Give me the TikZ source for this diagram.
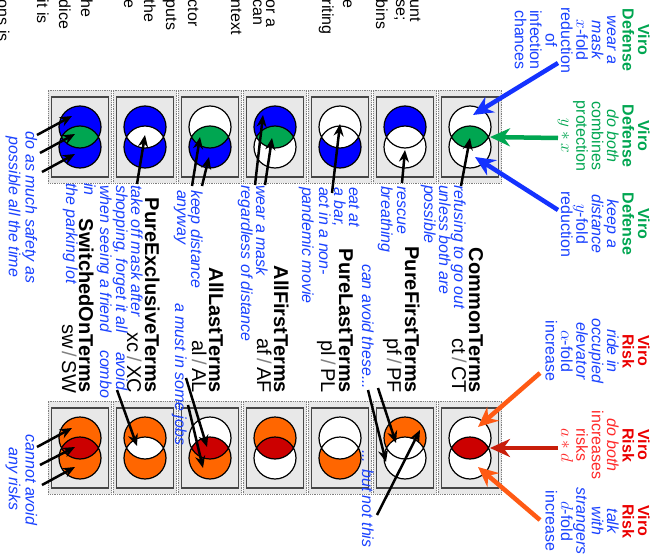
\documentclass[tikz,border=0pt]{standalone}
\usepackage{fontspec}
\setmainfont{Liberation Sans}
\usetikzlibrary{arrows.meta}
\definecolor{tblue}{RGB}{25,65,255}
\definecolor{tgreen}{RGB}{0,166,81}
\definecolor{tred}{RGB}{235,0,0}
\definecolor{tred2}{RGB}{255,40,40}
\definecolor{fblue}{RGB}{0,0,255}
\definecolor{fgreen}{RGB}{0,166,81}
\definecolor{forange}{RGB}{255,102,0}
\definecolor{fred}{RGB}{204,0,0}
\definecolor{aorange}{RGB}{255,90,20}
\definecolor{ared}{RGB}{200,30,10}
\definecolor{ablue}{RGB}{20,50,255}
\definecolor{boxgray}{RGB}{232,232,232}
\definecolor{boxedge}{RGB}{70,70,70}
\newcommand\venn[5]{%
  \fill[#3] (#1,#2-10) circle[radius=21pt];
  \fill[#5] (#1,#2+10) circle[radius=21pt];
  \begin{scope}
    \clip (#1,#2-10) circle[radius=21pt];
    \fill[#4] (#1,#2+10) circle[radius=21pt];
  \end{scope}
  \draw[line width=1.2pt] (#1,#2-10) circle[radius=21pt] (#1,#2+10) circle[radius=21pt];
}
\begin{document}
\begin{tikzpicture}[x=1pt,y=-1pt,
  rt/.style={rotate=-90, inner sep=0pt, outer sep=0pt},
  bt/.style={rt, anchor=base, text=tblue, font=\fontsize{16}{15}\selectfont\itshape},
  bu/.style={rt, anchor=base, text=tblue, font=\fontsize{16}{15}\selectfont},
  hd/.style={rt, anchor=base, font=\fontsize{16}{15}\selectfont\bfseries},
  ttl/.style={rt, font=\fontsize{20}{20}\selectfont\bfseries, anchor=base east},
  subl/.style={rt, font=\fontsize{20}{20}\selectfont, anchor=base east},
  frag/.style={rt, font=\fontsize{16}{16}\selectfont, anchor=base west},
  obox/.style={draw=gray, densely dotted, line width=0.8pt, fill=boxgray, minimum width=63.5pt, minimum height=93pt, inner sep=0pt},
  ibox/.style={draw=boxedge, line width=1.2pt, fill=boxgray, minimum width=57pt, minimum height=80pt, inner sep=0pt},
  big/.style={line width=4.5pt, -{Stealth[length=20pt,width=18pt]}},
  blk/.style={line width=2.5pt, black, -{Stealth[length=12pt,width=10pt]}}]
\useasboundingbox (0,0) rectangle (654,554);
\fill[white] (0,0) rectangle (654,554);

% cut-off paragraph fragments
\node[frag] (f1) at (410,0) {unt};
\node[frag] (f2) at (396,0) {se;};
\node[frag] (f3) at (376,0) {bins};
\node[frag] (f4) at (343,0) {e};
\node[frag] (f5) at (322,0) {riting};
\node[frag] (f6) at (266,0) {or a};
\node[frag] (f7) at (253,0) {can};
\node[frag] (f8) at (231,0) {ntext};
\node[frag] (f9) at (188,0) {ctor};
\node[frag] (f10) at (166,0) {puts};
\node[frag] (f11) at (144,0) {the};
\node[frag] (f12) at (124,0) {e};
\node[frag] (f13) at (81,0) {he};
\node[frag] (f14) at (59,0) {dice};
\node[frag] (f15) at (37,0) {it is};
\node[frag] (f16) at (-2,0) {ons is};

% boxes
\foreach \c/\n in {80/sw,145/xc,210/al,275/af,340/pl,405/pf,470/ct}{
  \node[obox] (o\n) at (\c,136.5) {};
  \node[ibox] (i\n) at (\c,137) {};
  \node[obox] (O\n) at (\c,447.5) {};
  \node[ibox] (I\n) at (\c,448) {};
}
% venns top
\venn{470}{137}{white}{fgreen}{white}
\venn{405}{137}{fblue}{white}{white}
\venn{340}{137}{white}{white}{fblue}
\venn{275}{137}{fblue}{fgreen}{white}
\venn{210}{137}{white}{fgreen}{fblue}
\venn{145}{137}{fblue}{white}{fblue}
\venn{80}{137}{fblue}{fgreen}{fblue}
% venns bottom
\venn{470}{448}{white}{fred}{white}
\venn{405}{448}{forange}{white}{white}
\venn{340}{448}{white}{white}{forange}
\venn{275}{448}{forange}{fred}{white}
\venn{210}{448}{white}{fred}{forange}
\venn{145}{448}{forange}{white}{forange}
\venn{80}{448}{forange}{fred}{forange}

% header groups
\node[hd,text=tgreen] (a0) at (638,40) {Viro};
\node[hd,text=tgreen] (a1) at (622.6,40) {Defense};
\node[bt] (a2) at (607.2,40) {wear a};
\node[bt] (a3) at (591.8,40) {mask};
\node[bu] (a4) at (576.4,40) {$x$-fold};
\node[bu] (a5) at (561,40) {reduction};
\node[bu] (a6) at (545.6,40) {of};
\node[bu] (a7) at (530.2,40) {infection};
\node[bu] (a8) at (514.8,40) {chances};

\node[hd,text=tgreen] (b0) at (638,136) {Viro};
\node[hd,text=tgreen] (b1) at (622.6,136) {Defense};
\node[bt,text=tgreen] (b2) at (607.2,136) {do both};
\node[bu,text=tgreen] (b3) at (591.8,136) {combines};
\node[bu,text=tgreen] (b4) at (576.4,136) {protection};
\node[bu,text=tgreen] (b5) at (561,136) {$y*x$};

\node[hd,text=tgreen] (c0) at (638,224) {Viro};
\node[hd,text=tgreen] (c1) at (622.6,224) {Defense};
\node[bt] (c2) at (607.2,224) {keep a};
\node[bt] (c3) at (591.8,224) {distance};
\node[bu] (c4) at (576.4,224) {$y$-fold};
\node[bu] (c5) at (561,224) {reduction};

\node[hd,text=tred] (d0) at (638,351) {Viro};
\node[hd,text=tred] (d1) at (622.6,351) {Risk};
\node[bt] (d2) at (607.2,351) {ride in};
\node[bt] (d3) at (591.8,351) {occupied};
\node[bt] (d4) at (576.4,351) {elevator};
\node[bu] (d5) at (561,351) {$\alpha$-fold};
\node[bu] (d6) at (545.6,351) {increase};

\node[hd,text=tred] (e0) at (638,445) {Viro};
\node[hd,text=tred] (e1) at (622.6,445) {Risk};
\node[bt,text=tred2] (e2) at (607.2,445) {do both};
\node[bu,text=tred2] (e3) at (591.8,445) {increases};
\node[bu,text=tred2] (e4) at (576.4,445) {risks};
\node[bu,text=tred2] (e5) at (561,445) {$a*d$};

\node[hd,text=tred] (g0) at (638,521) {Viro};
\node[hd,text=tred] (g1) at (622.6,521) {Risk};
\node[bt] (g2) at (607.2,521) {talk};
\node[bt] (g3) at (591.8,521) {with};
\node[bt] (g4) at (576.4,521) {strangers};
\node[bu] (g5) at (561,521) {$d$-fold};
\node[bu] (g6) at (545.6,521) {increase};

% titles
\node[ttl] (tct) at (469,393) {CommonTerms};
\node[subl] (sct) at (452,393) {ct\,{\color{gray}/}\,CT};
\node[ttl] (tpf) at (405,393) {PureFirstTerms};
\node[subl] (spf) at (387,393) {pf\,{\color{gray}/}\,PF};
\node[ttl] (tpl) at (339,393) {PureLastTerms};
\node[subl] (spl) at (321,393) {pl\,{\color{gray}/}\,PL};
\node[ttl] (taf) at (274,393) {AllFirstTerms};
\node[subl] (saf) at (257,393) {af\,{\color{gray}/}\,AF};
\node[ttl] (tal) at (209,393) {AllLastTerms};
\node[subl] (sal) at (192,393) {al\,{\color{gray}/}\,AL};
\node[ttl] (txc) at (145,393) {PureExclusiveTerms};
\node[subl] (sxc) at (127,393) {xc\,{\color{gray}/}\,XC};
\node[ttl] (tsw) at (79,393) {SwitchedOnTerms};
\node[subl] (ssw) at (62,393) {sw\,{\color{gray}/}\,SW};

% descriptions
\node[bt,anchor=base west] (m1) at (454,185) {refusing to go out};
\node[bt,anchor=base west] (m2) at (439,185) {unless both are};
\node[bt,anchor=base west] (m3) at (424,185) {possible};
\node[bt,anchor=base west] (m4) at (397,186) {rescue};
\node[bt,anchor=base west] (m5) at (381,186) {breathing};
\node[bt,anchor=base west] (m6) at (362,264) {can avoid these...};
\node[bt,anchor=base west] (m7) at (362,450) {... but not this};
\node[bt,anchor=base west] (m8) at (349,187) {eat at};
\node[bt,anchor=base west] (m9) at (334,187) {a bar,};
\node[bt,anchor=base west] (m10) at (319,187) {act in a non-};
\node[bt,anchor=base west] (m11) at (302,187) {pandemic movie};
\node[bt,anchor=base west] (m12) at (256,185) {wear a mask};
\node[bt,anchor=base west] (m13) at (241,185) {regardless of distance};
\node[bt,anchor=base west] (m14) at (191,190) {keep distance};
\node[bt,anchor=base west] (m15) at (177,190) {anyway};
\node[bt,anchor=base west] (m16) at (175,303) {a must in some jobs};
\node[bt,anchor=base west] (m17) at (131,185) {take off mask after};
\node[bt,anchor=base west] (m18) at (116,185) {shopping, forget it all};
\node[bt,anchor=base west] (m19) at (116,352) {avoid};
\node[bt,anchor=base west] (m20) at (100,185) {when seeing a friend};
\node[bt,anchor=base west] (m21) at (100,350) {combo};
\node[bt,anchor=base west] (m22) at (84,183) {in};
\node[bt,anchor=base west] (m23) at (66,183) {the parking lot};
\node[bt] (m24) at (25.5,207.5) {do as much safety as};
\node[bt] (m25) at (9,207) {possible all the time};
\node[bt] (m26) at (25.5,480) {cannot avoid};
\node[bt] (m27) at (9,479) {any risks};

% coloured arrows from headers
\coordinate (hA) at (558,63);  \coordinate (pA) at (473,115);
\coordinate (hB) at (558,138); \coordinate (pB) at (490,137);
\coordinate (hC) at (558,210); \coordinate (pC) at (475,157);
\coordinate (hD) at (540,373); \coordinate (pD) at (478,427);
\coordinate (hE) at (558,448); \coordinate (pE) at (490,448);
\coordinate (hF) at (540,520); \coordinate (pF) at (478,467);
\draw[big,ablue] (hA) -- (pA);
\draw[big,fgreen] (hB) -- (pB);
\draw[big,ablue] (hC) -- (pC);
\draw[big,aorange] (hD) -- (pD);
\draw[big,ared] (hE) -- (pE);
\draw[big,aorange] (hF) -- (pF);

% black arrows, top row
\coordinate (s1) at (461,186); \coordinate (e1) at (470,138);
\coordinate (s2) at (402,183); \coordinate (e2) at (405,150);
\coordinate (s3) at (332,193); \coordinate (e3) at (340,124);
\coordinate (s4) at (255,185); \coordinate (e4) at (263,115);
\coordinate (s5) at (265,185); \coordinate (e5) at (272,138);
\coordinate (s6) at (192,186); \coordinate (e6) at (200,137);
\coordinate (s7) at (202,186); \coordinate (e7) at (209,157);
\coordinate (s8) at (137,184); \coordinate (e8) at (145,135);
\coordinate (s9) at (37,135);  \coordinate (e9) at (72,116);
\coordinate (s10) at (40,153); \coordinate (e10) at (75,134);
\coordinate (s11) at (42,172); \coordinate (e11) at (75,154);
\foreach \k in {1,...,11}{\draw[blk] (s\k) -- (e\k);}
% black arrows, bottom row
\coordinate (u1) at (37,447);  \coordinate (v1) at (72,428);
\coordinate (u2) at (40,465);  \coordinate (v2) at (75,447);
\coordinate (u3) at (42,485);  \coordinate (v3) at (75,467);
\coordinate (u4) at (117,390); \coordinate (v4) at (137,446);
\coordinate (u5) at (186,378); \coordinate (v5) at (207,447);
\coordinate (u6) at (188,405); \coordinate (v6) at (203,468);
\coordinate (u7) at (378,388); \coordinate (v7) at (396,443);
\coordinate (u8) at (368,390); \coordinate (v8) at (386,462);
\coordinate (u9) at (377,515); \coordinate (v9) at (420,430);
\foreach \k in {1,...,9}{\draw[blk] (u\k) -- (v\k);}
\end{tikzpicture}
\end{document}
